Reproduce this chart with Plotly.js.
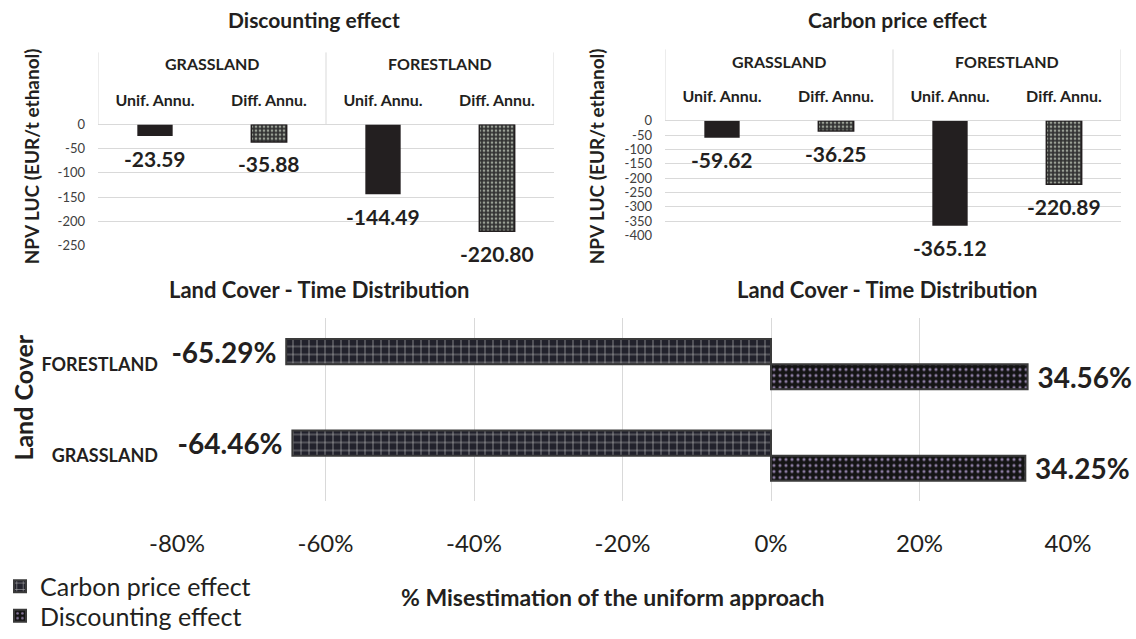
<!DOCTYPE html>
<html><head><meta charset="utf-8">
<script src="https://cdn.plot.ly/plotly-3.0.1.min.js"></script>
<style>html,body{margin:0;padding:0;background:#fff}#chart{width:1136px;height:639px}</style>
</head><body><div id="chart"></div>
<script>
// ---------- data ----------
const groups = ["GRASSLAND", "GRASSLAND", "FORESTLAND", "FORESTLAND"];
const methods = ["Unif. Annu.", "Diff. Annu.", "Unif. Annu.", "Diff. Annu."];
const discountingNPV = [-23.59, -35.88, -144.49, -220.80];
const carbonPriceNPV = [-59.62, -36.25, -365.12, -220.89];
const discountingTicks = [0, -50, -100, -150, -200, -250];
const carbonTicks = [0, -50, -100, -150, -200, -250, -300, -350, -400];
const landCovers = ["GRASSLAND", "FORESTLAND"];
const carbonMisestimation = [-0.6446, -0.6529];
const discountingMisestimation = [0.3425, 0.3456];
const pctTicks = [-0.8, -0.6, -0.4, -0.2, 0, 0.2, 0.4];
const pctTickText = ["-80%", "-60%", "-40%", "-20%", "0%", "20%", "40%"];
const seriesNames = ["Carbon price effect", "Discounting effect"];
const topTitles = ["Discounting effect", "Carbon price effect"];
const bottomTitle = "Land Cover - Time Distribution";
const npvAxisTitle = "NPV LUC (EUR/t ethanol)";
const landAxisTitle = "Land Cover";
const pctAxisTitle = "% Misestimation of the uniform approach";

// ---------- helpers ----------
const W = 1136, H = 639;
const fx = p => p / W;
const fy = p => 1 - p / H;
const FONT = "Lato, 'Open Sans', sans-serif";
const INK = "#231f20";
const keys = groups.map((g, i) => g + " " + methods[i]);

function topTraces(values, xa, ya) {
  const out = [];
  ["Unif. Annu.", "Diff. Annu."].forEach(m => {
    const idx = methods.map((mm, i) => mm === m ? i : null).filter(v => v !== null);
    const solid = m === "Unif. Annu.";
    out.push({
      type: "bar", x: idx.map(i => keys[i]), y: idx.map(i => values[i]), xaxis: xa, yaxis: ya,
      width: 0.31, offset: -0.155, showlegend: false, hoverinfo: "skip", cliponaxis: false,
      marker: solid ? {color: INK, line: {width: 0}} : {
        color: "#444444", line: {color: INK, width: 1.5},
        pattern: {shape: ".", fgcolor: "#9aa095", bgcolor: "#333333", size: 4, solidity: 0.35, fillmode: "replace"}
      }
    });
  });
  return out;
}

const traces = [
  ...topTraces(discountingNPV, "x", "y"),
  ...topTraces(carbonPriceNPV, "x2", "y2"),
  {
    type: "bar", orientation: "h", y: landCovers, x: discountingMisestimation,
    xaxis: "x3", yaxis: "y3", name: seriesNames[1], legend: "legend2",
    hoverinfo: "skip", cliponaxis: false, constraintext: "none",
    texttemplate: "\u00a0%{x:.2%}", textposition: "outside",
    textfont: {family: FONT, size: 28, weight: "bold", color: INK},
    marker: {
      color: "#141414", line: {color: "#3a3a3a", width: 2},
      pattern: {shape: ".", fgcolor: "#8c7ca2", bgcolor: "#141414", size: 6, solidity: 0.22, fillmode: "replace"}
    }
  },
  {
    type: "bar", orientation: "h", y: landCovers, x: carbonMisestimation,
    xaxis: "x3", yaxis: "y3", name: seriesNames[0], legend: "legend",
    hoverinfo: "skip", cliponaxis: false, constraintext: "none",
    texttemplate: "%{x:.2%}\u00a0", textposition: "outside",
    textfont: {family: FONT, size: 28, weight: "bold", color: INK},
    marker: {
      color: "#20202a", line: {color: "#3a3a3a", width: 2},
      pattern: {shape: "+", fgcolor: "#bdbdbd", bgcolor: "#22222c", size: 8, solidity: 0.15, fillmode: "replace"}
    }
  }
];

// ---------- layout pieces ----------
const panels = [
  {xa: "x", ya: "y", left: 98, right: 554, zero: 126, bottom: 248, min: -250, headTop: 53, groupY: 64,
   title: topTitles[0], titleX: 314, axisTitleX: 31, values: discountingNPV, ticks: discountingTicks},
  {xa: "x2", ya: "y2", left: 665, right: 1121, zero: 122, bottom: 238.3, min: -400, headTop: 50, groupY: 62,
   title: topTitles[1], titleX: 897, axisTitleX: 596, values: carbonPriceNPV, ticks: carbonTicks}
];

const layout = {
  width: W, height: H, autosize: false,
  margin: {l: 0, r: 0, t: 0, b: 0},
  paper_bgcolor: "#fff", plot_bgcolor: "rgba(0,0,0,0)",
  barmode: "group", bargap: 0.45, bargroupgap: 0,
  font: {family: FONT, color: INK},
  annotations: [], shapes: [],
  legend: {x: 0, xanchor: "left", y: fy(593), yanchor: "middle", bgcolor: "rgba(0,0,0,0)",
           font: {family: FONT, size: 25, color: INK}, itemclick: false, itemdoubleclick: false},
  legend2: {x: 0, xanchor: "left", y: fy(623), yanchor: "middle", bgcolor: "rgba(0,0,0,0)",
            font: {family: FONT, size: 25, color: INK}, itemclick: false, itemdoubleclick: false}
};

panels.forEach((p, k) => {
  const xk = k === 0 ? "xaxis" : "xaxis2";
  const yk = k === 0 ? "yaxis" : "yaxis2";
  layout[xk] = {
    domain: [fx(p.left), fx(p.right)], anchor: p.ya, side: "top", type: "category",
    categoryorder: "array", categoryarray: keys,
    range: [-0.5, keys.length - 0.5], tickvals: keys, ticktext: methods,
    showgrid: false, showline: false, zeroline: false, ticks: "",
    tickfont: {family: FONT, size: 16, weight: "bold", color: INK}, ticklabelstandoff: 14, fixedrange: true
  };
  layout[yk] = {
    domain: [fy(p.bottom), fy(p.zero)], anchor: p.xa, range: [p.min, 0],
    tickvals: p.ticks, ticktext: p.ticks.map(v => String(v)),
    showgrid: true, gridcolor: "#d9d9d9", gridwidth: 1,
    zeroline: true, zerolinecolor: "#d9d9d9", zerolinewidth: 1, showline: false, ticks: "",
    tickfont: {family: FONT, size: 13, color: "#404040"}, ticklabelstandoff: 12, fixedrange: true
  };
  layout.annotations.push({xref: "paper", yref: "paper", x: fx(p.titleX), y: fy(20), text: p.title,
    showarrow: false, xanchor: "center", yanchor: "middle",
    font: {family: FONT, size: 21, weight: "bold", color: INK}});
  layout.annotations.push({xref: "paper", yref: "paper", x: fx(p.axisTitleX), y: fy(158), text: npvAxisTitle,
    textangle: -90, showarrow: false, xanchor: "center", yanchor: "middle",
    font: {family: FONT, size: 19, weight: "bold", color: INK}});
  const uniq = [...new Set(groups)];
  uniq.forEach(g => {
    const idx = groups.map((gg, i) => gg === g ? i : null).filter(v => v !== null);
    const mid = idx.reduce((a, b) => a + b, 0) / idx.length;
    layout.annotations.push({xref: p.xa, yref: "paper", x: mid, y: fy(p.groupY), text: g,
      showarrow: false, xanchor: "center", yanchor: "middle",
      font: {family: FONT, size: 16, weight: "bold", color: INK}});
  });
  const bounds = [-0.5];
  groups.forEach((g, i) => { if (i > 0 && g !== groups[i - 1]) bounds.push(i - 0.5); });
  bounds.push(groups.length - 0.5);
  bounds.forEach(b => layout.shapes.push({type: "line", xref: p.xa, yref: "paper", x0: b, x1: b,
    y0: fy(p.zero), y1: fy(p.headTop), line: {color: "#d9d9d9", width: 1}}));
  p.values.forEach((v, i) => layout.annotations.push({xref: p.xa, yref: p.ya, x: keys[i], y: v,
    text: v.toFixed(2), showarrow: false, xanchor: "center", yanchor: "middle", yshift: -22,
    font: {family: FONT, size: 21, weight: "bold", color: INK}}));
});

layout.xaxis3 = {
  domain: [fx(177), fx(1068)], anchor: "y3", range: [-0.8, 0.4],
  tickvals: pctTicks, ticktext: pctTickText,
  showgrid: true, gridcolor: "#d9d9d9", gridwidth: 1, zeroline: false, showline: false, ticks: "",
  tickfont: {family: FONT, size: 24, color: INK}, ticklabelstandoff: 26, fixedrange: true
};
layout.yaxis3 = {
  domain: [fy(507), fy(322)], anchor: "x3", type: "category", range: [-0.5, landCovers.length - 0.5],
  showgrid: false, zeroline: false, showline: false, ticks: "",
  tickfont: {family: FONT, size: 18, weight: "bold", color: INK}, ticklabelstandoff: 18, fixedrange: true
};
[319, 887].forEach(cx => layout.annotations.push({xref: "paper", yref: "paper", x: fx(cx), y: fy(293),
  text: bottomTitle, showarrow: false, xanchor: "center", yanchor: "middle",
  font: {family: FONT, size: 22, weight: "bold", color: INK}}));
layout.annotations.push({xref: "paper", yref: "paper", x: fx(23), y: fy(402), text: landAxisTitle,
  textangle: -90, showarrow: false, xanchor: "center", yanchor: "middle",
  font: {family: FONT, size: 25, weight: "bold", color: INK}});
layout.annotations.push({xref: "paper", yref: "paper", x: fx(613), y: fy(604), text: pctAxisTitle,
  showarrow: false, xanchor: "center", yanchor: "middle",
  font: {family: FONT, size: 23, weight: "bold", color: INK}});

Plotly.newPlot("chart", traces, layout, {staticPlot: true, displayModeBar: false});
</script>
</body></html>
